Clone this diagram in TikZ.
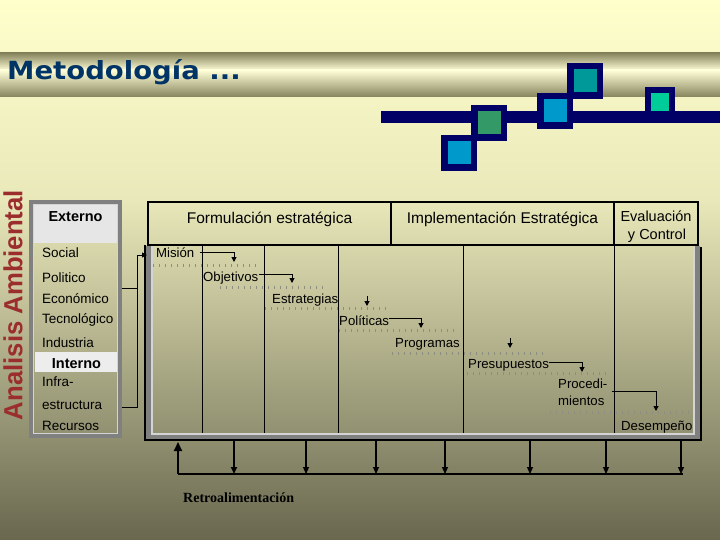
\documentclass[tikz,border=0pt]{standalone}
\usepackage{fontspec}
\setmainfont{Liberation Sans}
\newfontfamily\titlefont{DejaVu Sans}
\newfontfamily\serifb{Liberation Serif}
\usetikzlibrary{arrows.meta}
\definecolor{bgA}{HTML}{FFFFCC}
\definecolor{bgB}{HTML}{E9E8BA}
\definecolor{bgC}{HTML}{69684F}
\definecolor{bandE}{HTML}{86845C}
\definecolor{bandM}{HTML}{FFFFD8}
\definecolor{titleblue}{HTML}{003366}
\definecolor{navy}{HTML}{000066}
\definecolor{sqblue}{HTML}{0099CC}
\definecolor{sqgreen}{HTML}{339966}
\definecolor{sqteal}{HTML}{009999}
\definecolor{sqmint}{HTML}{00CC99}
\definecolor{ambred}{HTML}{9B2D2D}
\definecolor{frameDark}{HTML}{808080}
\definecolor{frameLight}{HTML}{D4D4D4}
\definecolor{bandGray}{HTML}{E6E6E6}
\definecolor{tickgray}{HTML}{8E8E80}
\tikzset{
  litem/.style={anchor=base west, inner sep=0, font=\fontsize{13.5}{15}\selectfont},
  bitem/.style={anchor=base west, inner sep=0, font=\fontsize{13.2}{15}\selectfont},
  hdr/.style={anchor=base, inner sep=0, font=\fontsize{15.5}{17}\selectfont},
  arr/.style={-{Triangle[length=5pt,width=5pt]}, line width=1pt},
  fbarr/.style={-{Triangle[length=7pt,width=6pt]}, line width=1.2pt},
  tickline/.style={draw=tickgray, line width=3pt, dash pattern=on 1pt off 5pt},
  sqbox/.style={fill=navy}
}
\begin{document}
\begin{tikzpicture}[x=1pt,y=-1pt]
\useasboundingbox (0,0) rectangle (720,540);
% background
\shade[top color=bgA, bottom color=bgB] (0,0) rectangle (720,200.5);
\shade[top color=bgB, bottom color=bgC] (0,200) rectangle (720,540);
% title band
\shade[top color=bandE, bottom color=bandM] (0,53) rectangle (720,70.5);
\shade[top color=bandM, bottom color=bandE] (0,70) rectangle (720,97);
\node[anchor=base west, inner sep=0, text=titleblue, font=\titlefont\bfseries\fontsize{25}{28}\selectfont, xscale=1.1] (title) at (7,80) {Metodología ...};
% decoration
\fill[navy] (381,111) rectangle (720,123);
\fill[navy] (471,105) rectangle (507,141); \fill[sqgreen] (477.5,111.5) rectangle (500.5,134.5);
\fill[navy] (441,135) rectangle (477,171); \fill[sqblue] (447.5,141.5) rectangle (470.5,164.5);
\fill[navy] (567,63) rectangle (603,99); \fill[sqteal] (573.5,69.5) rectangle (596.5,92.5);
\fill[navy] (537,93) rectangle (573,129); \fill[sqblue] (543.5,99.5) rectangle (566.5,122.5);
\fill[navy] (645,87) rectangle (675,117); \fill[sqmint] (651,93) rectangle (669,111);
% vertical label
\node[rotate=90, inner sep=0, text=ambred] (amb) at (13,305) {\resizebox{230pt}{19pt}{\bfseries Analisis Ambiental}};
% left box
\fill[bandGray] (34,205) rectangle (117,243);
\fill[bandGray!70!white] (35,352) rectangle (117,372);
\draw[frameDark, line width=4pt] (31,202) rectangle (120,436);
\draw[frameLight, line width=1.2pt] (33.6,204.6) rectangle (117.4,433.4);
\node[anchor=base, inner sep=0, font=\bfseries\fontsize{14.5}{16}\selectfont] (externo) at (75.5,222) {Externo};
\node[anchor=base, inner sep=0, font=\bfseries\fontsize{14.5}{16}\selectfont] (interno) at (76.5,368) {Interno};
\begin{scope}
\clip (34,205) rectangle (116,433);
\node[litem] (social) at (42,258) {Social};
\node[litem] (politico) at (42,282) {Politico};
\node[litem] (economico) at (42,303) {Económico};
\node[litem] (tecno) at (42,323) {Tecnológico};
\node[litem] (industria) at (42,347) {Industria};
\node[litem] (infra) at (42,386) {Infra-};
\node[litem] (estruct) at (42,409) {estructura};
\node[litem] (recursos) at (42,430) {Recursos};
\end{scope}
% header row
\draw[line width=1.5pt] (148,202) rectangle (698,245);
\draw[line width=1.5pt] (391,202) -- (391,245);
\draw[line width=1.5pt] (614,202) -- (614,245);
\node[hdr] (formul) at (269.5,223) {Formulación estratégica};
\node[hdr] (implem) at (502.5,223) {Implementación Estratégica};
\node[hdr, font=\fontsize{14.5}{16}\selectfont] (eval1) at (656,222) {Evaluación};
\node[hdr, font=\fontsize{14.5}{16}\selectfont] (eval2) at (657,240) {y Control};
% body frame
\draw[frameDark, line width=5pt] (148.5,246) -- (148.5,437.5) -- (697.5,437.5) -- (697.5,246);
\draw[frameLight, line width=2pt] (152,246) -- (152,434) -- (694,434) -- (694,247);
\draw[line width=1.5pt] (145,245) -- (145,440) -- (701,440) -- (701,247);
\foreach \xx in {202,264,338,463,614} \draw[line width=1pt] (\xx,245) -- (\xx,433);
% dotted guide lines
\draw[tickline] (153,265) -- (260,265);
\draw[tickline] (220,287) -- (325,287);
\draw[tickline] (265,308) -- (387,308);
\draw[tickline] (339,330) -- (457,330);
\draw[tickline] (392,353) -- (547,353);
\draw[tickline] (467,373) -- (607,373);
\draw[tickline] (550,412) -- (690,412);
% body items
\node[bitem] (mision) at (156,258) {Misión};
\node[bitem] (objetivos) at (203,281) {Objetivos};
\node[bitem] (estrategias) at (272,303) {Estrategias};
\node[bitem] (politicas) at (339,325) {Políticas};
\node[bitem] (programas) at (395,347) {Programas};
\node[bitem] (presup) at (468,368) {Presupuestos};
\node[bitem, anchor=north west, align=left, font=\fontsize{13.2}{16.5}\selectfont] (proced) at (558,379) {Procedi-\\mientos};
\node[bitem] (desemp) at (621,430) {Desempeño};
% body connectors
\coordinate (a1) at (234,262);
\coordinate (a2) at (292,283);
\coordinate (a3s) at (367,296); \coordinate (a3) at (367,306);
\coordinate (a4) at (421,328);
\coordinate (a5s) at (510,338); \coordinate (a5) at (510,348);
\coordinate (a6) at (582,372);
\coordinate (a7) at (656,411);
\draw[arr] ([xshift=5pt,yshift=1pt]mision.east) -| (a1);
\draw[arr] ([xshift=1pt,yshift=3pt]objetivos.east) -| (a2);
\draw[arr] (a3s) -- (a3);
\draw[arr] ([yshift=2pt]politicas.east) -| (a4);
\draw[arr] (a5s) -- (a5);
\draw[arr] ([yshift=2pt]presup.east) -| (a6);
\draw[arr] ([xshift=4pt,yshift=1pt]proced.east) -| (a7);
% left connectors
\coordinate (lb1) at (122,288);
\coordinate (lb2) at (122,407);
\coordinate (jn) at (137,255);
\coordinate (inM) at (147,255);
\draw[line width=1pt] (lb1) -- (137,288);
\draw[arr] (lb2) -| (jn) -- (inM);
% feedback
\coordinate (fbL) at (178,474);
\coordinate (fbR) at (683,474);
\coordinate (fbUp) at (178,442);
\draw[line width=1.2pt] (fbL) -- (fbR);
\draw[-{Triangle[length=9pt,width=8pt]}, line width=2pt] (fbL) -- (fbUp);
\draw[fbarr, line width=2pt] (234,441) -- (234,474);
\foreach \xx in {306,376,445,530,606,681} \draw[fbarr] (\xx,441) -- (\xx,474);
\node[anchor=base west, inner sep=0, font=\serifb\bfseries\fontsize{14}{16}\selectfont] (retro) at (183,502) {Retroalimentación};
\end{tikzpicture}
\end{document}
